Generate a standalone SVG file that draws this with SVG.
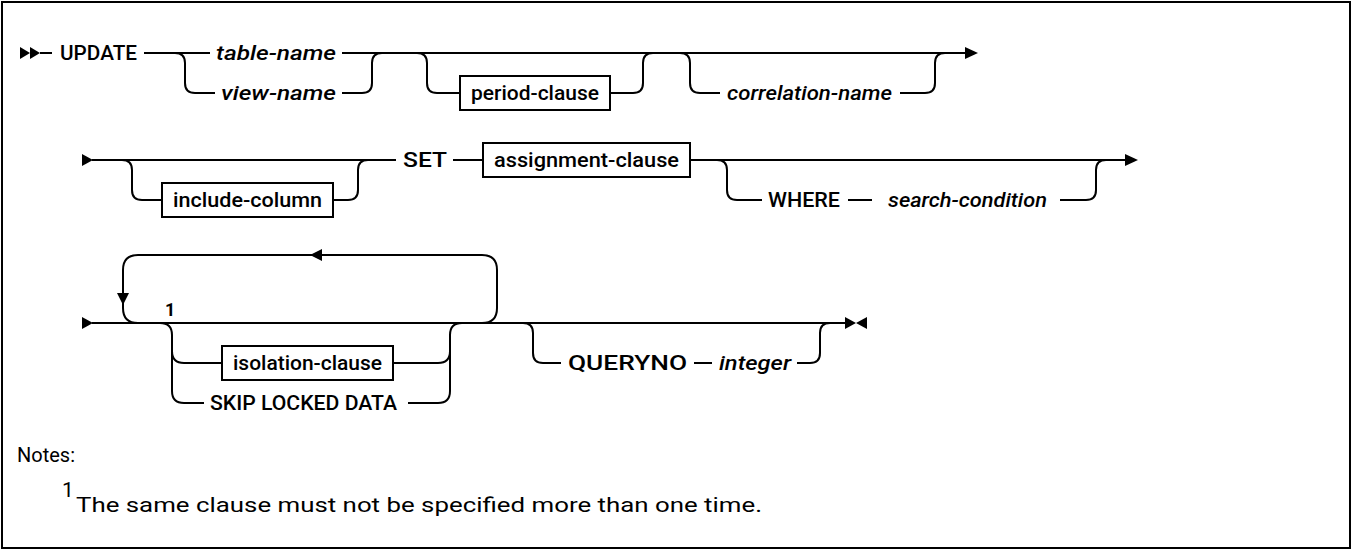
<svg xmlns="http://www.w3.org/2000/svg" width="1352" height="550" viewBox="0 0 1352 550">
<style>
.l{fill:none;stroke:#000;stroke-width:2}
.a{fill:#000;stroke:none}
.bx{fill:#fff;stroke:#000;stroke-width:2}
.t{font-family:Roboto,"Noto Sans",sans-serif;font-size:20px;font-weight:500;fill:#000}
.i{font-style:italic}
.n{font-family:Roboto,"Noto Sans",sans-serif;font-size:21px;font-weight:400;fill:#000}
.s{font-family:Roboto,"Noto Sans",sans-serif;font-size:18px;font-weight:700;fill:#000}
</style>
<rect x="2" y="2" width="1348" height="546" fill="#fff" stroke="#000" stroke-width="2"/>
<g id="connectors">
<path class="l" d="M40,53 H52 M144,53 H210 M342,53 H965"/>
<path class="l" d="M175,53 Q185,53 185,63 V83 Q185,93 195,93 H215"/>
<path class="l" d="M342,93 H362 Q372,93 372,83 V63 Q372,53 382,53"/>
<path class="l" d="M417,53 Q427,53 427,63 V83 Q427,93 437,93 H460"/>
<path class="l" d="M610,93 H633 Q643,93 643,83 V63 Q643,53 653,53"/>
<path class="l" d="M680,53 Q690,53 690,63 V83 Q690,93 700,93 H720"/>
<path class="l" d="M900,93 H925 Q935,93 935,83 V63 Q935,53 945,53"/>
<path class="l" d="M92,160 H396 M453,160 H483 M690,160 H1125"/>
<path class="l" d="M122,160 Q132,160 132,170 V190 Q132,200 142,200 H162"/>
<path class="l" d="M333,200 H348 Q358,200 358,190 V170 Q358,160 368,160"/>
<path class="l" d="M717,160 Q727,160 727,170 V190 Q727,200 737,200 H762"/>
<path class="l" d="M848,200 H872"/>
<path class="l" d="M1060,200 H1086 Q1096,200 1096,190 V170 Q1096,160 1106,160"/>
<path class="l" d="M92,323 H845"/>
<path class="l" d="M482,323 Q497,323 497,308 V270 Q497,255 482,255 H138 Q123,255 123,270 V308 Q123,323 138,323"/>
<path class="l" d="M160,323 Q172,323 172,335 V391 Q172,403 184,403 H204 M172,351 Q172,363 184,363 H222"/>
<path class="l" d="M393,363 H438 Q450,363 450,351 M408,403 H438 Q450,403 450,391 V335 Q450,323 462,323"/>
<path class="l" d="M523,323 Q533,323 533,333 V353 Q533,363 543,363 H561"/>
<path class="l" d="M694,363 H712 M797,363 H810 Q820,363 820,353 V333 Q820,323 830,323"/>
<polygon class="a" points="322,249 310,255 322,261"/>
<polygon class="a" points="117,293 129,293 123,305"/>
</g>
<g id="start1"><polygon class="a" points="20,47 30,53 20,59"/><polygon class="a" points="30,47 40,53 30,59"/></g>
<g id="update"><text class="t" x="60" y="60" textLength="77" lengthAdjust="spacingAndGlyphs">UPDATE</text></g>
<g id="table-name"><text class="t i" x="216" y="60" textLength="120" lengthAdjust="spacingAndGlyphs">table-name</text></g>
<g id="view-name"><text class="t i" x="221" y="100" textLength="115" lengthAdjust="spacingAndGlyphs">view-name</text></g>
<g id="period-clause"><rect class="bx" x="460" y="76" width="150" height="34"/><text class="t" x="471" y="100" textLength="128" lengthAdjust="spacingAndGlyphs">period-clause</text></g>
<g id="correlation-name"><text class="t i" x="727" y="100" textLength="165" lengthAdjust="spacingAndGlyphs">correlation-name</text></g>
<g id="end1"><polygon class="a" points="965,47 978,53 965,59"/></g>
<g id="start2"><polygon class="a" points="82,154 93,160 82,166"/></g>
<g id="include-column"><rect class="bx" x="162" y="183" width="171" height="34"/><text class="t" x="173" y="207" textLength="149" lengthAdjust="spacingAndGlyphs">include-column</text></g>
<g id="set"><text class="t" x="403" y="167" textLength="44" lengthAdjust="spacingAndGlyphs">SET</text></g>
<g id="assignment-clause"><rect class="bx" x="483" y="143" width="207" height="34"/><text class="t" x="494" y="167" textLength="185" lengthAdjust="spacingAndGlyphs">assignment-clause</text></g>
<g id="where"><text class="t" x="768" y="207" textLength="72" lengthAdjust="spacingAndGlyphs">WHERE</text></g>
<g id="search-condition"><text class="t i" x="888" y="207" textLength="159" lengthAdjust="spacingAndGlyphs">search-condition</text></g>
<g id="end2"><polygon class="a" points="1125,154 1138,160 1125,166"/></g>
<g id="start3"><polygon class="a" points="82,317 93,323 82,329"/></g>
<g id="note-ref"><text class="s" x="165" y="316">1</text></g>
<g id="isolation-clause"><rect class="bx" x="222" y="346" width="171" height="34"/><text class="t" x="233" y="370" textLength="149" lengthAdjust="spacingAndGlyphs">isolation-clause</text></g>
<g id="skip-locked-data"><text class="t" x="210" y="410" textLength="187" lengthAdjust="spacingAndGlyphs">SKIP LOCKED DATA</text></g>
<g id="queryno"><text class="t" x="568" y="370" textLength="119" lengthAdjust="spacingAndGlyphs">QUERYNO</text></g>
<g id="integer"><text class="t i" x="719" y="370" textLength="72" lengthAdjust="spacingAndGlyphs">integer</text></g>
<g id="end3"><polygon class="a" points="845,317 856,323 845,329"/><polygon class="a" points="867,317 856,323 867,329"/></g>
<g id="notes">
<text class="n" x="17" y="462" textLength="58" lengthAdjust="spacingAndGlyphs">Notes:</text>
<text class="n" x="62" y="497" font-size="14">1</text>
<text class="n" x="76" y="512" textLength="686" lengthAdjust="spacingAndGlyphs">The same clause must not be specified more than one time.</text>
</g>
</svg>
